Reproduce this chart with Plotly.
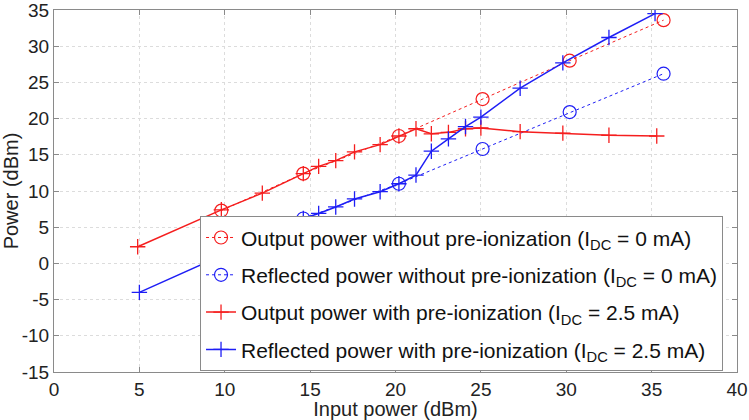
import plotly.graph_objects as go

# Output power without pre-ionization (I_DC = 0 mA)
out_wo_x = [9.8, 14.6, 20.2, 25.1, 30.2, 35.7]
out_wo_y = [7.3, 12.4, 17.6, 22.7, 28.0, 33.6]

# Reflected power without pre-ionization (I_DC = 0 mA)
ref_wo_x = [9.8, 14.6, 20.2, 25.1, 30.2, 35.7]
ref_wo_y = [1.0, 6.2, 11.0, 15.8, 20.9, 26.2]

# Output power with pre-ionization (I_DC = 2.5 mA)
out_w_x = [4.9, 9.8, 12.2, 14.6, 15.5, 16.5, 17.6, 19.1, 20.2, 21.2, 22.1, 23.1, 24.1, 25.0, 27.3, 29.8, 32.5, 35.3]
out_w_y = [2.3, 7.4, 9.7, 12.4, 13.4, 14.2, 15.4, 16.4, 17.6, 18.6, 17.9, 18.1, 18.6, 18.7, 18.2, 18.0, 17.7, 17.6]

# Reflected power with pre-ionization (I_DC = 2.5 mA)
ref_w_x = [5.0, 9.8, 12.2, 14.6, 15.5, 16.5, 17.6, 19.1, 20.2, 21.2, 22.1, 23.1, 24.1, 25.0, 27.3, 29.8, 32.5, 35.2]
ref_w_y = [-4.0, 1.0, 3.6, 6.2, 6.9, 7.8, 8.9, 9.9, 11.0, 12.2, 15.5, 17.2, 18.9, 20.2, 24.2, 27.7, 31.2, 34.5]

x_ticks = [0, 5, 10, 15, 20, 25, 30, 35, 40]
y_ticks = [-15, -10, -5, 0, 5, 10, 15, 20, 25, 30, 35]

RED = "rgb(245,30,30)"
BLUE = "rgb(30,30,245)"
FONT = "Liberation Sans, Arial, sans-serif"

fig = go.Figure()
fig.add_trace(go.Scatter(
    x=out_wo_x, y=out_wo_y, mode="lines+markers",
    name="Output power without pre-ionization (I<sub>DC</sub> = 0 mA)",
    line=dict(color=RED, width=1, dash="dot"),
    marker=dict(symbol="circle-open", size=13, color=RED, line=dict(width=1.2, color=RED)),
    legendgroup="a"))
fig.add_trace(go.Scatter(
    x=ref_wo_x, y=ref_wo_y, mode="lines+markers",
    name="Reflected power without pre-ionization (I<sub>DC</sub> = 0 mA)",
    line=dict(color=BLUE, width=1, dash="dot"),
    marker=dict(symbol="circle-open", size=13, color=BLUE, line=dict(width=1.2, color=BLUE)),
    legendgroup="b"))
fig.add_trace(go.Scatter(
    x=out_w_x, y=out_w_y, mode="lines+markers",
    name="Output power with pre-ionization (I<sub>DC</sub> = 2.5 mA)",
    line=dict(color=RED, width=1.5),
    marker=dict(symbol="cross-thin", size=11, color=RED, line=dict(width=1.3, color=RED)),
    legendgroup="c"))
fig.add_trace(go.Scatter(
    x=ref_w_x, y=ref_w_y, mode="lines+markers",
    name="Reflected power with pre-ionization (I<sub>DC</sub> = 2.5 mA)",
    line=dict(color=BLUE, width=1.5),
    marker=dict(symbol="cross-thin", size=11, color=BLUE, line=dict(width=1.3, color=BLUE)),
    legendgroup="d"))

axis_common = dict(
    showline=True, linecolor="#8a8a8a", linewidth=1, mirror="ticks",
    ticks="inside", ticklen=5, tickcolor="#8a8a8a",
    showgrid=True, gridcolor="#dcdcdc", griddash="dot", gridwidth=1,
    zeroline=False, tickfont=dict(size=19, color="#222", family=FONT),
    ticklabeloverflow="allow", automargin=False,
)

fig.update_layout(
    width=749, height=420,
    margin=dict(l=54, r=12, t=10, b=48),
    paper_bgcolor="white", plot_bgcolor="white",
    font=dict(family=FONT, color="#222"),
    showlegend=True,
    legend=dict(
        x=0.2138, y=0.43, xanchor="left", yanchor="top",
        bgcolor="white", bordercolor="#8a8a8a", borderwidth=1,
        font=dict(size=21, color="#111", family=FONT),
        tracegroupgap=7, itemwidth=30,
    ),
    xaxis=dict(range=[0, 40], tickvals=x_ticks, ticktext=[str(v) for v in x_ticks],
               title=dict(text="Input power (dBm)", font=dict(size=20, color="#222"), standoff=0),
               ticklabelstandoff=0, **axis_common),
    yaxis=dict(range=[-15, 35], tickvals=y_ticks, ticktext=[str(v) for v in y_ticks],
               title=dict(text="Power (dBm)", font=dict(size=20, color="#222"), standoff=2),
               ticklabelstandoff=0, **axis_common),
)

fig.write_html("out.html")
